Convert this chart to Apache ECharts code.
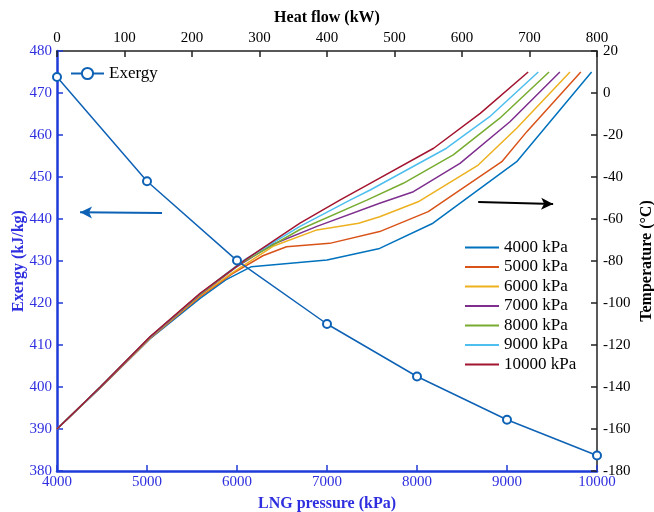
<!DOCTYPE html>
<html><head><meta charset="utf-8">
<script src="https://cdn.jsdelivr.net/npm/echarts@6/dist/echarts.min.js"></script>
<style>html,body{margin:0;padding:0;background:#fff}#c{width:654px;height:512px}</style>
</head><body><div id="c"></div>
<script>
const pressure = [4000, 5000, 6000, 7000, 8000, 9000, 10000];
const exergy = [473.8, 449.0, 430.1, 415.0, 402.5, 392.2, 383.7];

const seriesNames = ['4000 kPa','5000 kPa','6000 kPa','7000 kPa','8000 kPa','9000 kPa','10000 kPa'];
const seriesColors = ['#0072BD','#D95319','#EDB120','#7E2F8E','#77AC30','#4DBEEE','#A2142F'];

const q4000 = [0, 64, 138, 212, 250, 288, 400, 478, 557, 681, 792];
const t4000 = [-160, -140.5, -117, -97.8, -89, -82.7, -79.5, -74, -62, -32.7, 10];
const q5000 = [0, 64, 138, 212, 260, 305, 340, 404, 478, 550, 659, 696, 776];
const t5000 = [-160, -140.3, -116.8, -97, -86, -77.5, -73.2, -71.6, -66, -56.5, -32.7, -18.4, 10];
const q6000 = [0, 64, 138, 212, 260, 320, 385, 447, 478, 535, 624, 681, 760];
const t6000 = [-160, -140.2, -116.6, -96.5, -85.5, -73, -65.2, -62, -58.9, -51.8, -34.3, -16.8, 10];
const q7000 = [0, 64, 138, 212, 265, 320, 385, 478, 528, 597, 671, 745];
const t7000 = [-160, -140.1, -116.4, -96, -83, -72, -63.5, -52.5, -47, -33.5, -13.7, 10];
const q8000 = [0, 64, 138, 212, 270, 360, 459, 513, 587, 656, 729];
const t8000 = [-160, -140, -116.2, -95.8, -81.5, -65, -51, -43, -29.5, -12, 10];
const q9000 = [0, 64, 138, 212, 275, 360, 434, 464, 577, 641, 713];
const t9000 = [-160, -140, -116.1, -95.6, -80, -63.5, -51, -46.2, -26.3, -11.3, 10];
const q10000 = [0, 64, 138, 212, 282, 330, 360, 419, 464, 558, 627, 698];
const t10000 = [-160, -140, -116, -95.4, -78.7, -68.4, -62, -51, -43, -26.3, -9.7, 10];

const heatFlows = [q4000, q5000, q6000, q7000, q8000, q9000, q10000];
const temps = [t4000, t5000, t6000, t7000, t8000, t9000, t10000];

const xTicksBottom = {min: 4000, max: 10000, interval: 1000};
const xTicksTop = {min: 0, max: 800, interval: 100};
const yTicksLeft = {min: 380, max: 480, interval: 10};
const yTicksRight = {min: -180, max: 20, interval: 20};

const FONT = 'Liberation Serif';
const BLUE_AX = '#1f3bd8';
const BLUE_TX = '#2f2fe0';
const EX_COLOR = '#0E62B5';
const plain = v => String(v);

const chart = echarts.init(document.getElementById('c'), null, {renderer: 'canvas'});

const tempSeries = seriesNames.map((n, i) => ({
  name: n, type: 'line', xAxisIndex: 1, yAxisIndex: 1,
  data: heatFlows[i].map((q, j) => [q, temps[i][j]]),
  symbol: 'none', color: seriesColors[i],
  lineStyle: {width: 1.5, color: seriesColors[i]},
  z: 3, animation: false,
  markLine: i === 0 ? {
    silent: true, symbol: ['none', 'arrow'], symbolSize: [9, 12],
    lineStyle: {color: '#000', width: 2, type: 'solid'}, label: {show: false},
    data: [[{coord: [624, -51.9]}, {coord: [735, -52.9]}]]
  } : undefined
}));

const axisCommon = {onZero: false};

const option = {
  animation: false,
  backgroundColor: '#fff',
  textStyle: {fontFamily: FONT},
  grid: {left: 57, right: 57, top: 51, bottom: 41, containLabel: false, outerBoundsMode: 'none'},
  legend: [
    {
      data: ['Exergy'], left: 65, top: 60, itemWidth: 33, itemHeight: 14, itemGap: 5,
      textStyle: {fontFamily: FONT, fontSize: 17, color: '#000'}
    },
    {
      data: seriesNames, orient: 'vertical', left: 459, top: 234,
      itemWidth: 34, itemHeight: 14, itemGap: 2.5, itemTextGap: 2,
      itemStyle: {opacity: 0},
      textStyle: {fontFamily: FONT, fontSize: 17, color: '#000'}
    }
  ],
  xAxis: [
    {
      type: 'value', position: 'bottom', ...xTicksBottom,
      name: 'LNG pressure (kPa)', nameLocation: 'middle', nameGap: 25,
      nameTextStyle: {fontFamily: FONT, fontSize: 16, fontWeight: 'bold', color: BLUE_TX},
      axisLine: {show: true, ...axisCommon, lineStyle: {color: BLUE_AX, width: 2.5}},
      axisTick: {show: true, inside: true, length: 6, lineStyle: {color: BLUE_AX, width: 1.5}},
      axisLabel: {fontFamily: FONT, fontSize: 15, color: BLUE_TX, margin: 4, formatter: plain},
      splitLine: {show: false}
    },
    {
      type: 'value', position: 'top', ...xTicksTop,
      name: 'Heat flow (kW)', nameLocation: 'middle', nameGap: 25,
      nameTextStyle: {fontFamily: FONT, fontSize: 16, fontWeight: 'bold', color: '#000'},
      axisLine: {show: true, ...axisCommon, lineStyle: {color: '#222', width: 1.5}},
      axisTick: {show: true, inside: true, length: 6, lineStyle: {color: '#222', width: 1.5}},
      axisLabel: {fontFamily: FONT, fontSize: 15, color: '#000', margin: 5, formatter: plain},
      splitLine: {show: false}
    }
  ],
  yAxis: [
    {
      type: 'value', position: 'left', ...yTicksLeft,
      name: 'Exergy (kJ/kg)', nameLocation: 'middle', nameGap: 30, nameRotate: 90,
      nameMoveOverlap: false,
      nameTextStyle: {fontFamily: FONT, fontSize: 16, fontWeight: 'bold', color: BLUE_TX},
      axisLine: {show: true, ...axisCommon, lineStyle: {color: BLUE_AX, width: 2.5}},
      axisTick: {show: true, inside: true, length: 6, lineStyle: {color: BLUE_AX, width: 1.5}},
      axisLabel: {fontFamily: FONT, fontSize: 15, color: BLUE_TX, margin: 5, formatter: plain},
      splitLine: {show: false}
    },
    {
      type: 'value', position: 'right', ...yTicksRight,
      name: 'Temperature (°C)', nameLocation: 'middle', nameGap: 42, nameRotate: 90,
      nameMoveOverlap: false,
      nameTextStyle: {fontFamily: FONT, fontSize: 16, fontWeight: 'bold', color: '#000'},
      axisLine: {show: true, ...axisCommon, lineStyle: {color: '#222', width: 1.5}},
      axisTick: {show: true, inside: true, length: 6, lineStyle: {color: '#222', width: 1.5}},
      axisLabel: {fontFamily: FONT, fontSize: 15, color: '#000', margin: 6, formatter: plain},
      splitLine: {show: false}
    }
  ],
  series: [
    {
      name: 'Exergy', type: 'line', xAxisIndex: 0, yAxisIndex: 0,
      data: pressure.map((p, i) => [p, exergy[i]]),
      symbol: 'emptyCircle', symbolSize: 8, color: EX_COLOR,
      itemStyle: {color: EX_COLOR, borderColor: EX_COLOR, borderWidth: 1.5},
      lineStyle: {width: 1.5, color: EX_COLOR}, z: 4,
      markLine: {
        silent: true, symbol: ['none', 'arrow'], symbolSize: [9, 12],
        lineStyle: {color: EX_COLOR, width: 2, type: 'solid'}, label: {show: false},
        data: [[{coord: [5167, 441.4]}, {coord: [4256, 441.6]}]]
      }
    },
    ...tempSeries
  ]
};
chart.setOption(option);
</script>
</body></html>
